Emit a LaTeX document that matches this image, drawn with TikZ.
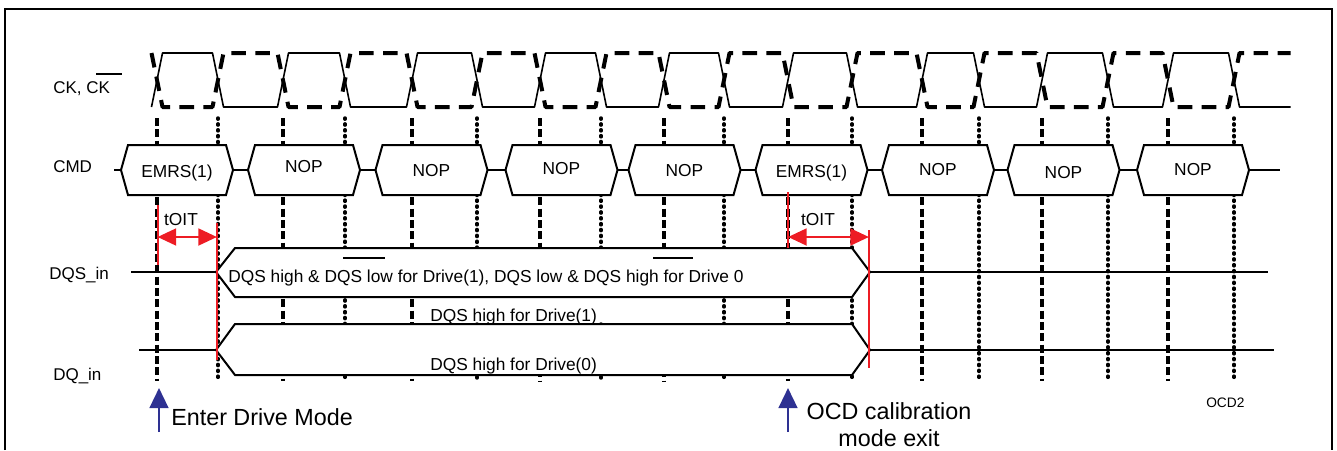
\documentclass[tikz,border=0pt]{standalone}
\usepackage{fontspec}
\setmainfont{Liberation Sans}
\usepackage{tikz}
\usetikzlibrary{positioning,arrows.meta}
\definecolor{oitred}{RGB}{237,28,36}
\definecolor{modeblue}{RGB}{46,49,146}
\tikzset{
  frame/.style={draw, line width=1.1pt},
  ckline/.style={line width=1.2pt, line join=round},
  ckbar/.style={line width=3pt, line join=round, dash pattern=on 11pt off 7pt},
  evenline/.style={line width=2.5pt, dash pattern=on 6pt off 2.5pt},
  oddline/.style={line width=2.6pt, line cap=round, dash pattern=on 0.9pt off 3.5pt},
  sig/.style={draw, line width=1.5pt},
  busbox/.style={
    draw, fill=white,
    line width=1.5pt,
    line join=miter},
  lbl/.style={font=\fontsize{12.75}{15}\selectfont, inner sep=0pt},
  sigtxt/.style={font=\fontsize{13}{15}\selectfont, inner sep=0pt, anchor=base},
  notetxt/.style={font=\fontsize{17.5}{20.25}\selectfont, inner sep=0pt},
  smalltxt/.style={font=\fontsize{10.3}{12}\selectfont, inner sep=0pt},
  bar/.style={line width=1.5pt},
  tmark/.style={draw=oitred, line width=1.5pt},
  oitarrow/.style={<->, draw=oitred, line width=2.2pt,
    >={Triangle[length=14pt,width=12.5pt,fill=oitred]}},
  modearrow/.style={->, draw=modeblue, line width=1.8pt,
    >={Triangle[length=15pt,width=14pt,fill=modeblue]}},
}
% rising / falling / next rising edge of CK
\def\ckedges{157/218/283, 283/345/412, 412/477/540, 540/601/664, 664/724/788,%
  788/852/922, 922/979/1042, 1042/1108/1168, 1168/1234/1296}

\begin{document}
\begin{tikzpicture}[x=0.75pt, y=-0.75pt]
    \useasboundingbox (0,0) rectangle (1337,450);
    \draw[frame] (5,450) -- (5,9) -- (1332,9) -- (1332,450);

    % row names
    \node[lbl, anchor=base west] (ckname) at (53,93) {CK, CK};
    \draw[bar, line width=1.2pt] (96,74) -- (122,74);
    \node[lbl, anchor=base west] (cmdname) at (53,172) {CMD};
    \node[lbl, anchor=base west] (dqsname) at (49,279) {DQS\_in};
    \node[lbl, anchor=base west] (dqname) at (53,380) {DQ\_in};

    % clock pair
    \draw[ckline] (151.5,107) \foreach \a/\b/\c in \ckedges
        { -- (\a+5.5,53) -- (\b-5.5,53) -- (\b+5.5,107) -- (\c-5.5,107) };
    \draw[ckbar] (151.5,53) \foreach \a/\b/\c in \ckedges
        { -- (\a+5.5,107) -- (\b-5.5,107) -- (\b+5.5,53) -- (\c-5.5,53) };

    % edge guides
    \foreach \x in {157,283,412,788,922,1042,1168}
        \draw[evenline] (\x,118) -- (\x,381);
    \foreach \x in {540,664}
        \draw[evenline] (\x,118) -- (\x,297) (\x,324) -- (\x,381);
    \foreach \x in {218,345,724,852,979,1108,1234}
        \draw[oddline] (\x,118) -- (\x,381);
    \foreach \x in {477,601}
        \draw[oddline] (\x,118) -- (\x,297) (\x,324) -- (\x,381);

    % command bus
    \draw[sig] (114,170) -- (1280,170);
    \foreach \cx/\yb/\txt [count=\n] in {177/177/EMRS(1), 304/172/NOP, 431.5/176/NOP,
        561.5/174/NOP, 684.5/176/NOP, 811.5/177/EMRS(1), 938/175/NOP, 1063.5/178/NOP,
        1193/175/NOP} {
        \draw[busbox] (\cx-56,170) -- (\cx-49,145) -- (\cx+49,145) -- (\cx+56,170)
            -- (\cx+49,195) -- (\cx-49,195) -- cycle;
        \node[sigtxt] (cmd\n) at (\cx,\yb) {\txt};
    }

    % DQS_in
    \draw[sig] (131,272) -- (216,272) (870,272) -- (1268,272);
    \draw[busbox] (216,272) -- (235,248) -- (852,248) -- (870,272) -- (852,297)
        -- (235,297) -- cycle;
    \node[sigtxt, anchor=base west] (dqsdrv) at (228,282)
        {DQS high \& DQS low for Drive(1), DQS low \& DQS high for Drive 0};
    \draw[bar] (343,258) -- (385,258) (653,258) -- (693,258);

    % DQ_in
    \draw[sig] (139,350) -- (216,350) (870,350) -- (1274,350);
    \draw[busbox] (216,350) -- (235,324) -- (852,324) -- (870,350) -- (852,375)
        -- (235,375) -- cycle;
    \node[sigtxt, anchor=base west] (drvone) at (430,321) {DQS high for Drive(1)};
    \node[sigtxt, anchor=base west] (drvzero) at (430,370) {DQS high for Drive(0)};

    % tOIT
    \draw[tmark] (157.5,205) -- (157.5,265);
    \draw[tmark] (217,223) -- (217,360);
    \coordinate (oitAl) at (157.5,237);
    \coordinate (oitAr) at (217,237);
    \draw[oitarrow] (oitAl) -- (oitAr);
    \node[sigtxt] (oitA) at (181,225) {tOIT};

    \draw[tmark] (788,192) -- (788,248);
    \draw[tmark] (869,230) -- (869,368);
    \coordinate (oitBl) at (788,237);
    \coordinate (oitBr) at (869,237);
    \draw[oitarrow] (oitBl) -- (oitBr);
    \node[sigtxt] (oitB) at (818,225) {tOIT};

    % mode markers
    \coordinate (enterfoot) at (159,432);
    \coordinate (entertip) at (159,388);
    \draw[modearrow] (enterfoot) -- (entertip);
    \node[notetxt, anchor=base west] (enter) at (171,425) {Enter Drive Mode};

    \coordinate (exitfoot) at (788,432);
    \coordinate (exittip) at (788,388);
    \draw[modearrow] (exitfoot) -- (exittip);
    \node[notetxt, anchor=base, align=center] (exit) at (889,446) {OCD calibration\\mode exit};

    \node[smalltxt, anchor=base west] (tag) at (1206,407) {OCD2};
\end{tikzpicture}
\end{document}
